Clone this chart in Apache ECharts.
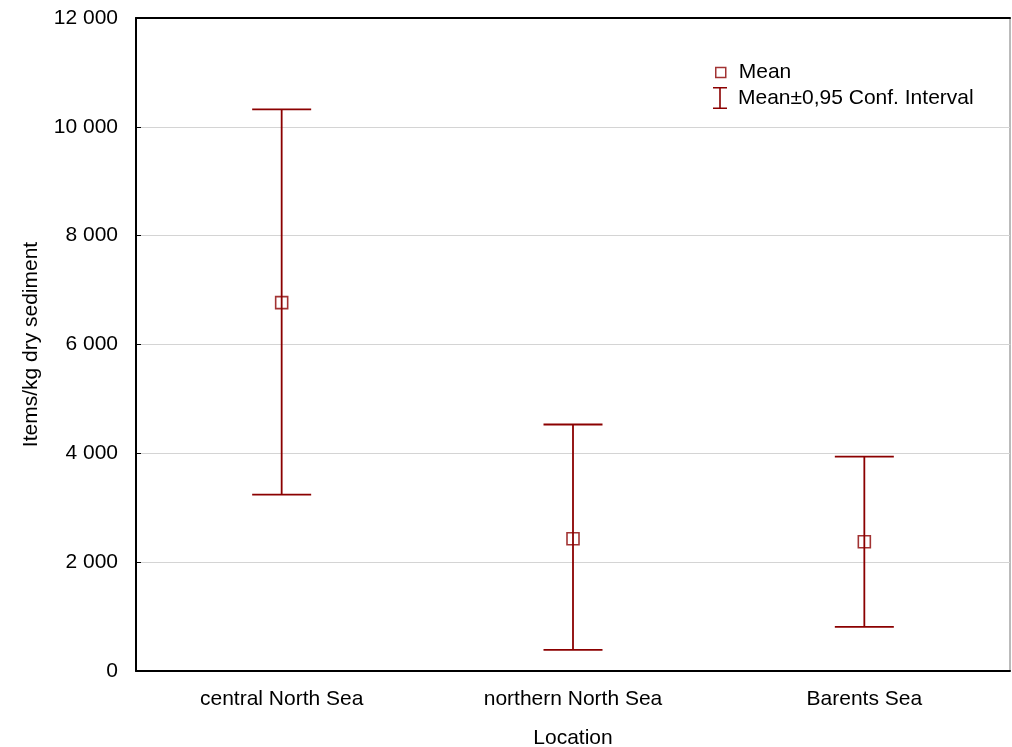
<!DOCTYPE html>
<html>
<head>
<meta charset="utf-8">
<script src="https://cdn.jsdelivr.net/npm/echarts@6/dist/echarts.min.js"></script>
<style>
  html, body { margin: 0; padding: 0; background: #fff; }
  #chart { width: 1012px; height: 747px; }
</style>
</head>
<body>
<div id="chart"></div>
<script>
// data
const locations = ['central North Sea', 'northern North Sea', 'Barents Sea'];
const means = [6770, 2430, 2375];
const ciLow = [3240, 390, 810];
const ciHigh = [10320, 4530, 3940];

const red = '#8b0000';
const font = 'Liberation Sans, Arial, sans-serif';

const fmt = v => String(v).replace(/\B(?=(\d{3})+(?!\d))/g, ' ');

const chart = echarts.init(document.getElementById('chart'));

const option = {
  animation: false,
  textStyle: { fontFamily: font },
  grid: {
    left: 136, right: 2, top: 18, bottom: 76,
    outerBoundsMode: 'none',
    show: true, borderColor: '#777', borderWidth: 1
  },
  legend: [
    {
      data: [{
        name: 'Mean', icon: 'rect',
        itemStyle: { color: '#fff', borderColor: red, borderWidth: 1.5 }
      }],
      left: 715, top: 62, padding: 0,
      itemWidth: 10, itemHeight: 10, itemGap: 0,
      textStyle: { fontSize: 21, color: '#000', fontFamily: font, padding: [0, 0, 0, 8] },
      selectedMode: false
    },
    {
      data: [{
        name: 'Mean\u00b10,95 Conf. Interval',
        icon: 'path://M0,0H14V1.6H7.8V20.4H14V22H0V20.4H6.2V1.6H0Z',
        itemStyle: { color: red }
      }],
      left: 713, top: 87, padding: 0,
      itemWidth: 14, itemHeight: 22, itemGap: 0,
      textStyle: { fontSize: 21, color: '#000', fontFamily: font, padding: [0, 0, 0, 6] },
      selectedMode: false
    }
  ],
  xAxis: [
    {
      type: 'category',
      data: locations,
      name: 'Location',
      nameLocation: 'middle',
      nameGap: 57,
      nameTextStyle: { fontSize: 21, color: '#000' },
      axisLine: { lineStyle: { color: '#000', width: 2 } },
      axisTick: { inside: true, length: 5, alignWithLabel: true, lineStyle: { color: '#000' } },
      axisLabel: { fontSize: 21, color: '#000', margin: 18 },
      splitLine: { show: false }
    },
    {
      type: 'category',
      data: locations,
      position: 'top',
      axisLine: { lineStyle: { color: '#000', width: 2 } },
      axisTick: { show: false },
      axisLabel: { show: false }
    }
  ],
  yAxis: {
    type: 'value',
    min: 0, max: 12000, interval: 2000,
    name: 'Items/kg dry sediment',
    nameLocation: 'middle',
    nameGap: 94,
    nameTextStyle: { fontSize: 21, color: '#000' },
    axisLine: { show: true, lineStyle: { color: '#000', width: 2 } },
    axisTick: { show: true, inside: true, length: 5, lineStyle: { color: '#000' } },
    axisLabel: { fontSize: 21, color: '#000', margin: 18, formatter: fmt },
    splitLine: { show: true, lineStyle: { color: '#d4d4d4', width: 1 } }
  },
  series: [
    {
      name: 'Mean\u00b10,95 Conf. Interval',
      type: 'custom',
      itemStyle: { color: red },
      data: locations.map((c, i) => [i, ciLow[i], ciHigh[i]]),
      encode: { x: 0, y: [1, 2] },
      renderItem: function (params, api) {
        const lo = api.coord([api.value(0), api.value(1)]);
        const hi = api.coord([api.value(0), api.value(2)]);
        const hw = 29.5;
        const style = { stroke: red, lineWidth: 1.8 };
        return {
          type: 'group',
          children: [
            { type: 'line', shape: { x1: hi[0], y1: hi[1], x2: lo[0], y2: lo[1] }, style: style },
            { type: 'line', shape: { x1: hi[0] - hw, y1: hi[1], x2: hi[0] + hw, y2: hi[1] }, style: style },
            { type: 'line', shape: { x1: lo[0] - hw, y1: lo[1], x2: lo[0] + hw, y2: lo[1] }, style: style }
          ]
        };
      },
      z: 2
    },
    {
      name: 'Mean',
      type: 'scatter',
      data: means,
      symbol: 'rect',
      symbolSize: 12,
      itemStyle: { color: 'rgba(255,255,255,0)', borderColor: red, borderWidth: 1.6 },
      z: 3
    }
  ]
};

chart.setOption(option);
</script>
</body>
</html>
